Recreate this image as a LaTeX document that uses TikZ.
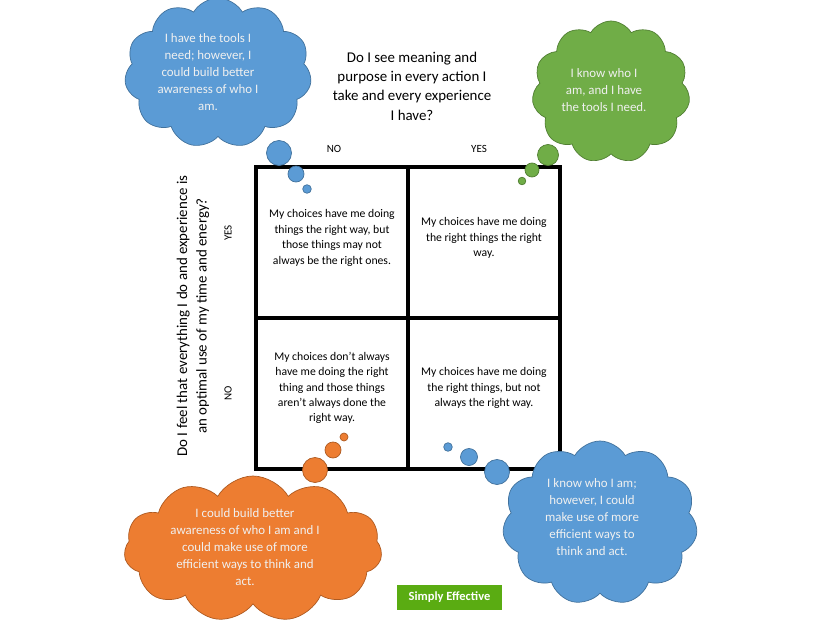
\documentclass[tikz,border=0pt]{standalone}
\usepackage{fontspec}
\setmainfont{Carlito}
\usepackage{tikz}
\usetikzlibrary{shapes.symbols, positioning}

\definecolor{officeblue}{RGB}{91,155,213}
\definecolor{officeblueline}{RGB}{65,113,156}
\definecolor{officegreen}{RGB}{112,173,71}
\definecolor{officegreenline}{RGB}{80,126,50}
\definecolor{officeorange}{RGB}{237,125,49}
\definecolor{officeorangeline}{RGB}{174,90,33}
\definecolor{badgegreen}{RGB}{90,172,18}

\begin{document}
\begin{tikzpicture}[x=1pt, y=-1pt,
    thought/.style={cloud, cloud puffs=11, cloud puff arc=120, cloud ignores aspect, line width=0.7pt, inner sep=0pt},
    bluethought/.style={thought, fill=officeblue, draw=officeblueline},
    greenthought/.style={thought, fill=officegreen, draw=officegreenline},
    orangethought/.style={thought, fill=officeorange, draw=officeorangeline},
    bubbletext/.style={text=white!94!black, align=center, font=\fontsize{12.9}{17}\selectfont},
    celltext/.style={align=center, font=\fontsize{11.7}{15.4}\selectfont},
    question/.style={align=center, font=\fontsize{14.9}{19.3}\selectfont},
    answer/.style={font=\fontsize{11}{13}\selectfont}]
    \useasboundingbox (0,0) rectangle (820,624);
    % Grid
    \fill[white] (256,167) rectangle (560,469);
    \draw[line width=4.5pt] (256,167) rectangle (560,469);
    \draw[line width=4.5pt] (408,167) -- (408,469);
    \draw[line width=4.5pt] (256,318) -- (560,318);
    % Cell texts
    \node[celltext] (cellTL) at (332,238) {My choices have me doing\\things the right way, but\\those things may not\\always be the right ones.};
    \node[celltext] (cellTR) at (484,238) {My choices have me doing\\the right things the right\\way.};
    \node[celltext] (cellBL) at (332,388) {My choices don’t always\\have me doing the right\\thing and those things\\aren’t always done the\\right way.};
    \node[celltext] (cellBR) at (484,388) {My choices have me doing\\the right things, but not\\always the right way.};
    % Questions
    \node[question] (qTop) at (412,86) {Do I see meaning and\\purpose in every action I\\take and every experience\\I have?};
    \node[question, rotate=90] (qLeft) at (193,316) {Do I feel that everything I do and experience is\\an optimal use of my time and energy?};
    \node[answer] (topNo) at (334,149) {NO};
    \node[answer] (topYes) at (479,149) {YES};
    \node[answer, rotate=90] (leftYes) at (228,233) {YES};
    \node[answer, rotate=90] (leftNo) at (228,393) {NO};
    % Top left thought
    \node[bluethought, minimum width=187, minimum height=150] (cloudTL) at (218,73) {};
    \node[bubbletext] (textTL) at (208,72) {I have the tools I\\need; however, I\\could build better\\awareness of who I\\am.};
    \draw[fill=officeblue, draw=officeblueline, line width=0.7pt] (279,153) circle[radius=12.5];
    \draw[fill=officeblue, draw=officeblueline, line width=0.7pt] (296,174) circle[radius=8];
    \draw[fill=officeblue, draw=officeblueline, line width=0.7pt] (307,189) circle[radius=4.3];
    % Top right thought
    \node[greenthought, minimum width=158, minimum height=142] (cloudTR) at (611,92) {};
    \node[bubbletext] (textTR) at (604,90) {I know who I\\am, and I have\\the tools I need.};
    \draw[fill=officegreen, draw=officegreenline, line width=0.7pt] (548,155) circle[radius=10.5];
    \draw[fill=officegreen, draw=officegreenline, line width=0.7pt] (532,170) circle[radius=7];
    \draw[fill=officegreen, draw=officegreenline, line width=0.7pt] (522,181) circle[radius=3.8];
    % Bottom left thought
    \node[orangethought, minimum width=258, minimum height=146] (cloudBL) at (253,549) {};
    \node[bubbletext] (textBL) at (245,547) {I could build better\\awareness of who I am and I\\could make use of more\\efficient ways to think and\\act.};
    \draw[fill=officeorange, draw=officeorangeline, line width=0.7pt] (315,470) circle[radius=12.5];
    \draw[fill=officeorange, draw=officeorangeline, line width=0.7pt] (333,450) circle[radius=8];
    \draw[fill=officeorange, draw=officeorangeline, line width=0.7pt] (344,437) circle[radius=4];
    % Bottom right thought
    \node[bluethought, minimum width=195, minimum height=164] (cloudBR) at (600,523) {};
    \node[bubbletext] (textBR) at (592,517) {I know who I am;\\however, I could\\make use of more\\efficient ways to\\think and act.};
    \draw[fill=officeblue, draw=officeblueline, line width=0.7pt] (497,472) circle[radius=12.5];
    \draw[fill=officeblue, draw=officeblueline, line width=0.7pt] (469,457) circle[radius=8.5];
    \draw[fill=officeblue, draw=officeblueline, line width=0.7pt] (448,447) circle[radius=4.3];
    % Badge
    \node[fill=badgegreen, text=white, font=\fontsize{12.5}{14}\selectfont\bfseries, minimum width=105, minimum height=25, inner sep=0pt] (badge) at (449.5,597.5) {Simply Effective};
\end{tikzpicture}
\end{document}
